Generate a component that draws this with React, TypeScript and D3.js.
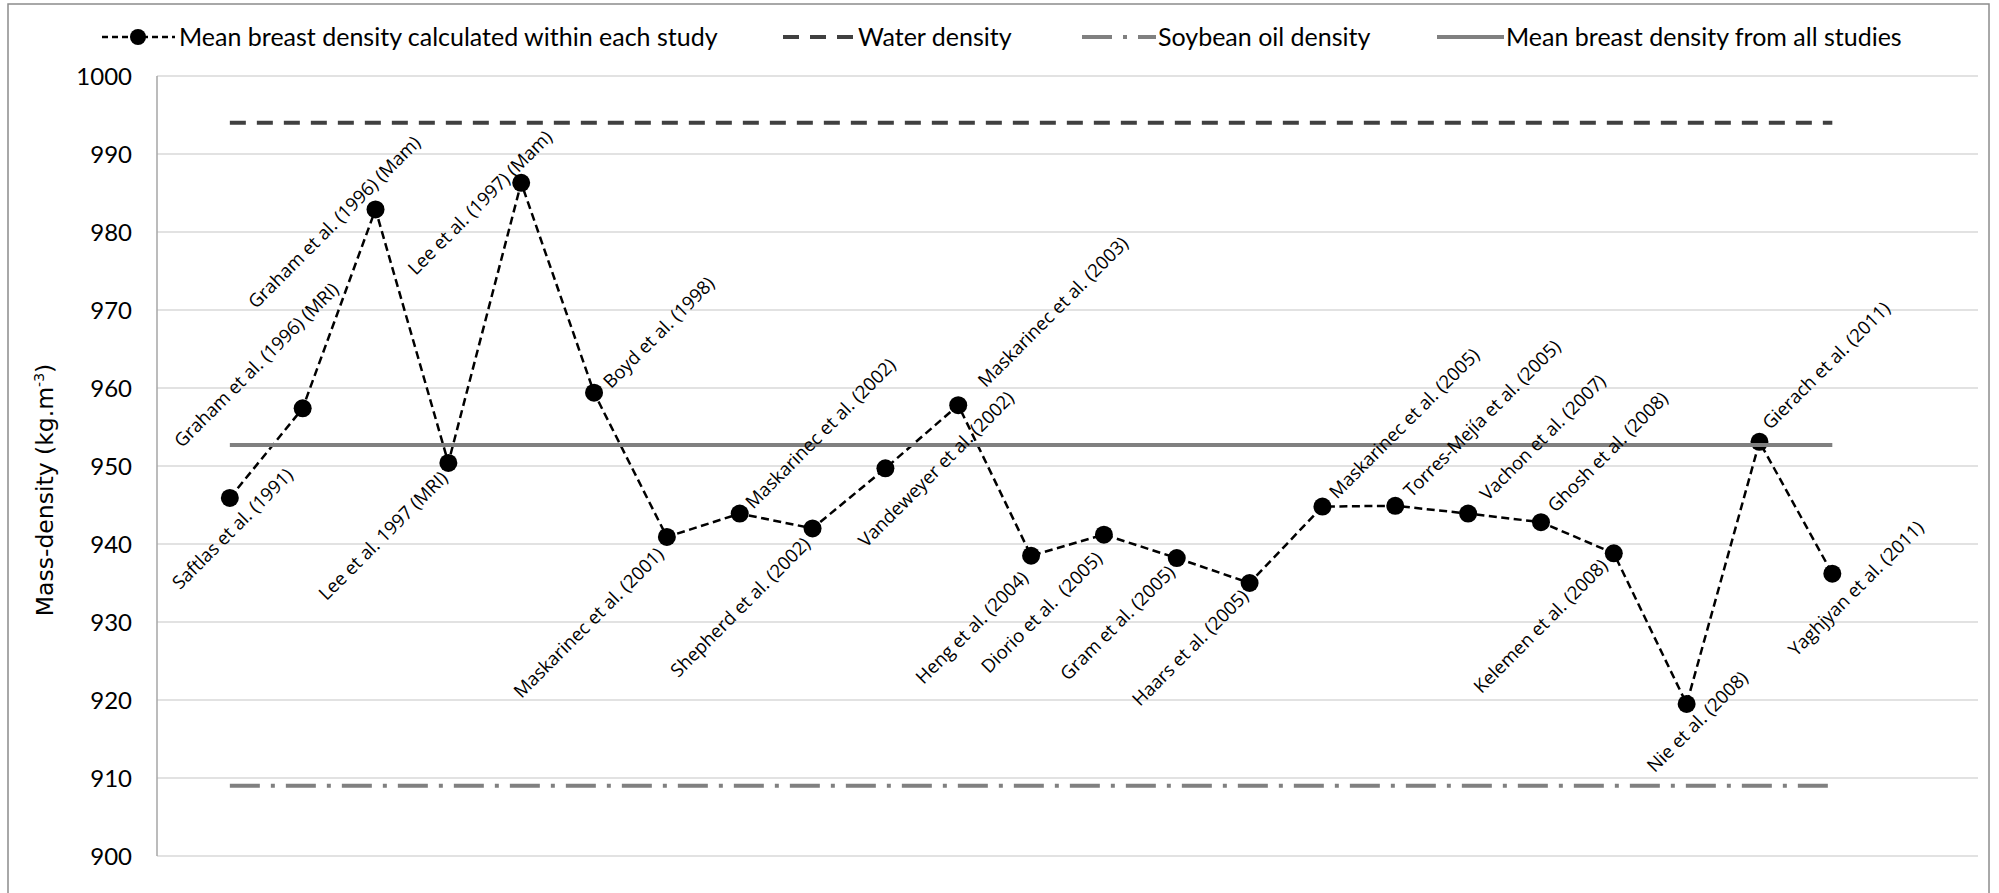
import React from "react";
import * as d3 from "d3";

const categories: string[] = [
  "Saftlas et al. (1991)",
  "Graham et al. (1996) (MRI)",
  "Graham et al. (1996) (Mam)",
  "Lee et al. 1997 (MRI)",
  "Lee et al. (1997) (Mam)",
  "Boyd et al. (1998)",
  "Maskarinec et al. (2001)",
  "Maskarinec et al. (2002)",
  "Shepherd et al. (2002)",
  "Vandeweyer et al. (2002)",
  "Maskarinec et al. (2003)",
  "Heng et al. (2004)",
  "Diorio et al.  (2005)",
  "Gram et al. (2005)",
  "Haars et al. (2005)",
  "Maskarinec et al. (2005)",
  "Torres-Mejía et al. (2005)",
  "Vachon et al. (2007)",
  "Ghosh et al. (2008)",
  "Kelemen et al. (2008)",
  "Nie et al. (2008)",
  "Gierach et al. (2011)",
  "Yaghjyan et al. (2011)",
];

const studyDensity: number[] = [
  945.9, 957.4, 982.9, 950.4, 986.3, 959.4, 940.9, 943.9, 942.0, 949.7, 957.8,
  938.5, 941.2, 938.2, 935.0, 944.8, 944.9, 943.9, 942.8, 938.8, 919.5, 953.1,
  936.2,
];

const waterDensity = 994;
const soybeanDensity = 909;
const meanDensity = 952.7;

const yTicks: number[] = [900, 910, 920, 930, 940, 950, 960, 970, 980, 990, 1000];

const legendLabels: string[] = [
  "Mean breast density calculated within each study",
  "Water density",
  "Soybean oil density",
  "Mean breast density from all studies",
];

// layout: label centre offsets relative to each point (px)
const labelOffsets: [number, number][] = [
  [2, 30], [-47, -44], [-42, 12], [-66, 72], [-42, 19], [64, -61], [-79, 85],
  [80, -81], [-73, 78], [50, 0], [94, -94], [-60, 71], [-63, 77], [-60, 64],
  [-60, 64], [81, -84], [86, -88], [74, -77], [66, -71], [-74, 72], [10, 17],
  [66, -77], [23, 14],
];

const W = 1999;
const H = 893;
const left = 157;
const right = 1978;
const top = 76;
const bottom = 856;

export default function App() {
  const x = d3.scaleLinear().domain([-1, 24]).range([left, right]);
  const y = d3.scaleLinear().domain([900, 1000]).range([bottom, top]);

  const idx = studyDensity.map((_, i) => i);
  const line = d3
    .line<number>()
    .x((i) => x(i))
    .y((i) => y(studyDensity[i]));

  const hLine = (v: number) =>
    d3.line<number>().x((i) => x(i)).y(() => y(v))([0, studyDensity.length - 1]) || "";

  const labelFont = "'Open Sans', 'DejaVu Sans', sans-serif";
  const legendFont = "Lato, 'Liberation Sans', sans-serif";
  const legendY = 37;

  return (
    <svg
      width={W}
      height={H}
      style={{ position: "absolute", left: 0, top: 0, background: "#fff" }}
    >
      <rect x={0} y={0} width={W} height={H} fill="#fff" />
      <rect x={8} y={4} width={1981} height={H + 10} fill="none" stroke="#8c8c8c" strokeWidth={1.5} />

      {/* gridlines */}
      {yTicks.map((t) => (
        <line key={t} x1={left} x2={right} y1={y(t)} y2={y(t)} stroke="#d9d9d9" strokeWidth={1.6} />
      ))}
      <line x1={left} x2={left} y1={top} y2={bottom} stroke="#a6a6a6" strokeWidth={1.5} />

      {/* y tick labels */}
      {yTicks.map((t) => (
        <text
          key={"l" + t}
          x={132}
          y={y(t)}
          dy="0.36em"
          textAnchor="end"
          fontFamily={legendFont}
          fontSize={24}
          fill="#000"
        >
          {t}
        </text>
      ))}

      {/* y axis title */}
      <text
        transform={`translate(53,490) rotate(-90)`}
        textAnchor="middle"
        fontFamily="'DejaVu Sans', Verdana, sans-serif"
        fontSize={23.5}
        fill="#000"
      >
        Mass-density (kg.m
        <tspan dy={-9} fontSize={14}>-3</tspan>
        <tspan dy={9}>)</tspan>
      </text>

      {/* study series */}
      <path d={line(idx) || ""} fill="none" stroke="#000" strokeWidth={2.5} strokeDasharray="8 4.5" />
      {idx.map((i) => (
        <circle key={"c" + i} cx={x(i)} cy={y(studyDensity[i])} r={9} fill="#000" />
      ))}

      {/* reference lines */}
      <path d={hLine(waterDensity)} stroke="#404040" strokeWidth={4} strokeDasharray="16 11" fill="none" />
      <path d={hLine(soybeanDensity)} stroke="#808080" strokeWidth={4} strokeDasharray="30 11 4 11" fill="none" />
      <path d={hLine(meanDensity)} stroke="#808080" strokeWidth={4} fill="none" />

      {/* data labels */}
      {idx.map((i) => {
        const cx = x(i) + labelOffsets[i][0];
        const cy = y(studyDensity[i]) + labelOffsets[i][1];
        return (
          <text
            key={"t" + i}
            transform={`translate(${cx},${cy}) rotate(-45)`}
            textAnchor="middle"
            dominantBaseline="central"
            fontFamily={labelFont}
            fontSize={18.5}
            fill="#000"
            style={{ whiteSpace: "pre" }}
          >
            {categories[i]}
          </text>
        );
      })}

      {/* legend */}
      <g fontFamily={legendFont} fontSize={25} fill="#000">
        <line x1={102} x2={175} y1={legendY} y2={legendY} stroke="#000" strokeWidth={2.5} strokeDasharray="6 4" />
        <circle cx={138} cy={legendY} r={8} fill="#000" />
        <text x={179} y={legendY} dy="0.35em">{legendLabels[0]}</text>

        <line x1={783} x2={853} y1={legendY} y2={legendY} stroke="#404040" strokeWidth={4} strokeDasharray="16 11" />
        <text x={858} y={legendY} dy="0.35em">{legendLabels[1]}</text>

        <line x1={1082} x2={1156} y1={legendY} y2={legendY} stroke="#808080" strokeWidth={4} strokeDasharray="30 11 4 11" />
        <text x={1158} y={legendY} dy="0.35em">{legendLabels[2]}</text>

        <line x1={1437} x2={1504} y1={legendY} y2={legendY} stroke="#808080" strokeWidth={4} />
        <text x={1506} y={legendY} dy="0.35em">{legendLabels[3]}</text>
      </g>
    </svg>
  );
}
